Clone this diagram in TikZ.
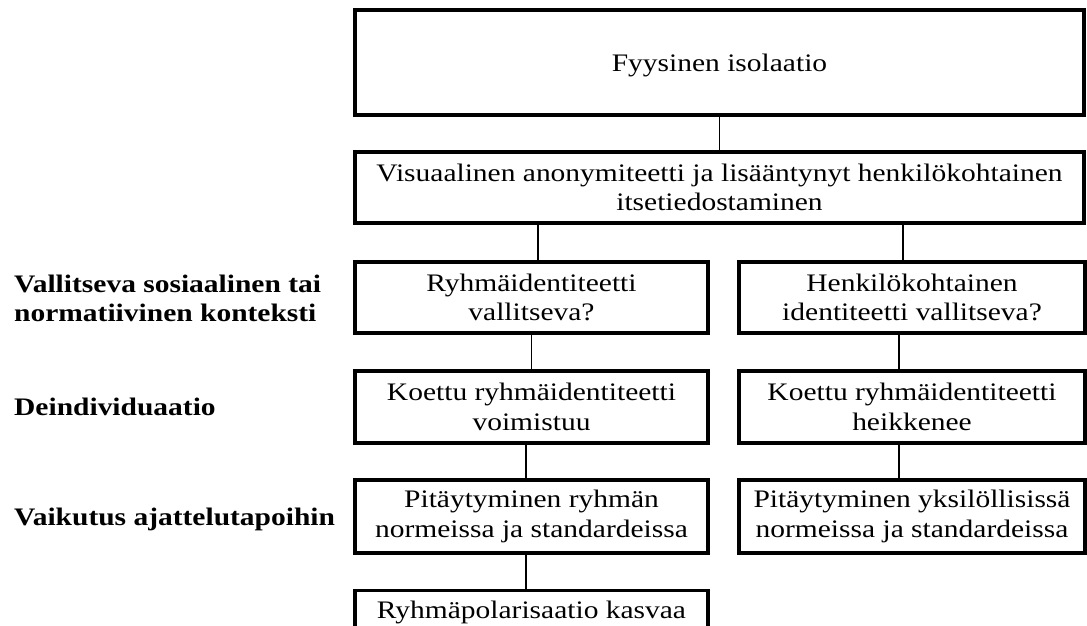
\documentclass[tikz,border=0pt]{standalone}
\usepackage{fontspec}
\setmainfont[FakeStretch=1.17]{Liberation Serif}
\tikzset{
  box/.style={draw=black, line width=3.2pt, align=center},
  link/.style={draw=black, line width=1.3pt},
  lbl/.style={font=\fontsize{25.2}{29.5}\selectfont\bfseries, align=left}
}
\begin{document}
\begin{tikzpicture}[x=1pt,y=1pt]
\tikzstyle{every node}+=[inner sep=0pt, font=\fontsize{25.2}{29.5}\selectfont]
\useasboundingbox (0,0) rectangle (1087,-626);
% boxes
\draw (719.5,-62.5) node [box, minimum width=729, minimum height=105, text depth=0pt] (isol) {Fyysinen isolaatio};
\draw (719.5,-187.5) node [box, minimum width=729, minimum height=71] (visu) {Visuaalinen anonymiteetti ja lisääntynyt henkilökohtainen\\itsetiedostaminen};
\draw (531.5,-297.5) node [box, minimum width=353, minimum height=71] (ryhma) {Ryhmäidentiteetti\\vallitseva?};
\draw (912,-297.5) node [box, minimum width=346, minimum height=71] (henk) {Henkilökohtainen\\identiteetti vallitseva?};
\draw (531.5,-407) node [box, minimum width=353, minimum height=72] (voim) {Koettu ryhmäidentiteetti\\voimistuu};
\draw (912,-407) node [box, minimum width=346, minimum height=72] (heik) {Koettu ryhmäidentiteetti\\heikkenee};
\draw (531.5,-516.5) node [box, minimum width=353, minimum height=73] (normr) {Pitäytyminen ryhmän\\normeissa ja standardeissa};
\draw (912,-516.5) node [box, minimum width=346, minimum height=73] (normy) {Pitäytyminen yksilöllisissä\\normeissa ja standardeissa};
\draw (531.5,-589) node [box, anchor=north, minimum width=353, text height=28, text depth=22] (polar) {Ryhmäpolarisaatio kasvaa};
% row labels
\draw (14,-274.8) node [lbl, anchor=north west] (konteksti) {Vallitseva sosiaalinen tai\\normatiivinen konteksti};
\draw (14,-415) node [lbl, anchor=base west] (deind) {Deindividuaatio};
\draw (14,-525) node [lbl, anchor=base west] (vaik) {Vaikutus ajattelutapoihin};
% connectors
\draw [link] (isol) -- (visu);
\draw [link] ([xshift=6.5]ryhma.north) -- ([xshift=6.5]ryhma.north |- visu.south);
\draw [link] ([xshift=-9]henk.north) -- ([xshift=-9]henk.north |- visu.south);
\draw [link] (ryhma) -- (voim);
\draw [link] ([xshift=-5.5]voim.south) -- ([xshift=-5.5]voim.south |- normr.north);
\draw [link] ([xshift=-5.5]normr.south) -- ([xshift=-5.5]normr.south |- polar.north);
\draw [link] ([xshift=-13]heik.north) -- ([xshift=-13]heik.north |- henk.south);
\draw [link] ([xshift=-13]heik.south) -- ([xshift=-13]heik.south |- normy.north);
\end{tikzpicture}
\end{document}
